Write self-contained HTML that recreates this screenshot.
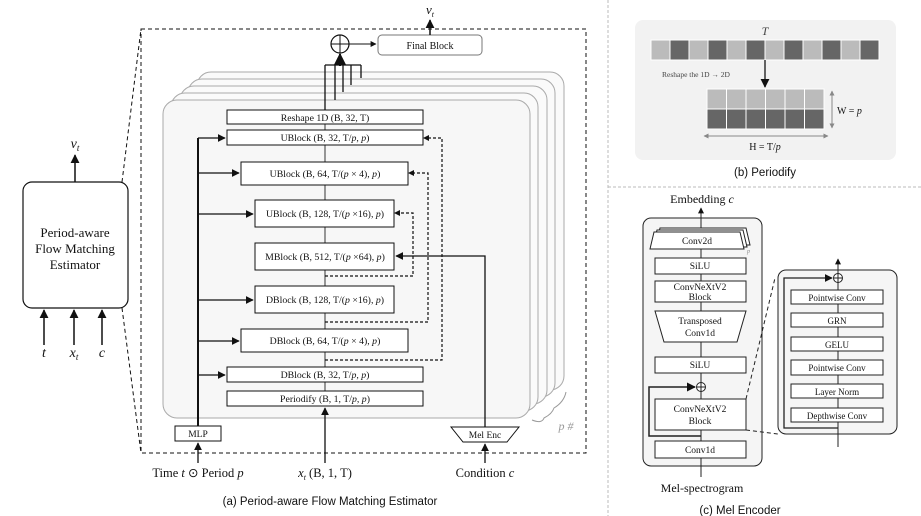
<!DOCTYPE html>
<html><head><meta charset="utf-8"><style>
body{margin:0;background:#fff}
svg{display:block}
text{font-family:"Liberation Serif",serif;fill:#111}
</style></head><body>
<svg width="921" height="516" viewBox="0 0 921 516" xmlns="http://www.w3.org/2000/svg">
<defs>
<marker id="a" viewBox="0 0 10 10" refX="9" refY="5" markerWidth="6" markerHeight="6" orient="auto"><path d="M0,0L10,5L0,10z" fill="#111"/></marker>
<marker id="g" viewBox="0 0 10 10" refX="9" refY="5" markerWidth="5" markerHeight="5" orient="auto"><path d="M0,0L10,5L0,10z" fill="#888"/></marker>
</defs>

<!-- Left box -->
<rect x="23" y="182" width="105" height="126" rx="9" fill="#fff" stroke="#111" stroke-width="1.2"/>
<text x="75" y="237" font-size="13" text-anchor="middle">Period-aware</text>
<text x="75" y="253" font-size="13" text-anchor="middle">Flow Matching</text>
<text x="75" y="269" font-size="13" text-anchor="middle">Estimator</text>
<line x1="75" y1="182" x2="75" y2="155" stroke="#111" stroke-width="1.5" marker-end="url(#a)"/>
<text x="75" y="148" font-size="14" text-anchor="middle" font-style="italic">v<tspan font-size="9" dy="3">t</tspan></text>
<line x1="44" y1="345" x2="44" y2="310" stroke="#111" stroke-width="1.5" marker-end="url(#a)"/>
<line x1="74" y1="345" x2="74" y2="310" stroke="#111" stroke-width="1.5" marker-end="url(#a)"/>
<line x1="102" y1="345" x2="102" y2="310" stroke="#111" stroke-width="1.5" marker-end="url(#a)"/>
<text x="44" y="357" font-size="14" text-anchor="middle" font-style="italic">t</text>
<text x="74" y="357" font-size="14" text-anchor="middle" font-style="italic">x<tspan font-size="9" dy="3">t</tspan></text>
<text x="102" y="357" font-size="14" text-anchor="middle" font-style="italic">c</text>
<line x1="122" y1="182" x2="141" y2="29" stroke="#111" stroke-dasharray="4,3"/>
<line x1="122" y1="308" x2="141" y2="453" stroke="#111" stroke-dasharray="4,3"/>

<!-- Dashed main box -->
<rect x="141" y="29" width="445" height="424" fill="none" stroke="#111" stroke-width="1" stroke-dasharray="4,3"/>

<!-- stacked panels -->
<g stroke="#aaa" stroke-width="1">
<rect x="197" y="72" width="367" height="318" rx="14" fill="#fafafa"/>
<rect x="188" y="79" width="367" height="318" rx="14" fill="#fafafa"/>
<rect x="180" y="86" width="367" height="318" rx="14" fill="#fafafa"/>
<rect x="171" y="93" width="367" height="318" rx="14" fill="#fafafa"/>
<rect x="163" y="100" width="367" height="318" rx="14" fill="#f7f7f7"/>
</g>
<path d="M532,420 q10,4 12,-2 q8,-4 10,-10 q10,-6 12,-16" fill="none" stroke="#999"/>
<text x="566" y="430" font-size="12" font-style="italic" text-anchor="middle" style="fill:#999">p #</text>

<!-- top combination -->
<circle cx="340" cy="44" r="9" fill="#fff" stroke="#111" stroke-width="1.2"/>
<line x1="331" y1="44" x2="349" y2="44" stroke="#111"/><line x1="340" y1="35" x2="340" y2="53" stroke="#111"/>
<line x1="340" y1="66" x2="340" y2="54" stroke="#111" stroke-width="2" marker-end="url(#a)"/>
<g stroke="#111" stroke-width="1.3" fill="none">
<line x1="325" y1="65" x2="361" y2="65"/>
<line x1="325" y1="65" x2="325" y2="110"/>
<line x1="335" y1="65" x2="335" y2="100"/>
<line x1="343" y1="65" x2="343" y2="92"/>
<line x1="351" y1="65" x2="351" y2="85"/>
<line x1="361" y1="65" x2="361" y2="78"/>
</g>
<line x1="349" y1="44" x2="376" y2="44" stroke="#111" marker-end="url(#a)"/>
<rect x="378" y="35" width="104" height="20" rx="4" fill="#fff" stroke="#777"/>
<text x="430" y="49" font-size="10" text-anchor="middle">Final Block</text>
<line x1="430" y1="35" x2="430" y2="20" stroke="#111" stroke-width="1.5" marker-end="url(#a)"/>
<text x="430" y="14" font-size="13" text-anchor="middle" font-style="italic">v<tspan font-size="8" dy="3">t</tspan></text>

<!-- central line -->
<line x1="325" y1="110" x2="325" y2="406" stroke="#555" stroke-width="1.2"/>

<!-- blocks -->
<g stroke="#111" stroke-width="1" fill="#fff">
<rect x="227" y="110" width="196" height="14"/>
<rect x="227" y="130" width="196" height="15"/>
<rect x="241" y="162" width="167" height="23"/>
<rect x="255" y="200" width="139" height="27"/>
<rect x="255" y="243" width="139" height="27"/>
<rect x="255" y="286" width="139" height="27"/>
<rect x="241" y="329" width="167" height="23"/>
<rect x="227" y="367" width="196" height="15"/>
<rect x="227" y="391" width="196" height="15"/>
</g>
<g font-size="9.8" text-anchor="middle">
<text x="325" y="121">Reshape 1D (B, 32, T)</text>
<text x="325" y="141">UBlock (B, 32, T/<tspan font-style="italic">p</tspan>, <tspan font-style="italic">p</tspan>)</text>
<text x="325" y="177">UBlock (B, 64, T/(<tspan font-style="italic">p</tspan> × 4), <tspan font-style="italic">p</tspan>)</text>
<text x="325" y="217">UBlock (B, 128, T/(<tspan font-style="italic">p</tspan> ×16), <tspan font-style="italic">p</tspan>)</text>
<text x="325" y="260">MBlock (B, 512, T/(<tspan font-style="italic">p</tspan> ×64), <tspan font-style="italic">p</tspan>)</text>
<text x="325" y="303">DBlock (B, 128, T/(<tspan font-style="italic">p</tspan> ×16), <tspan font-style="italic">p</tspan>)</text>
<text x="325" y="344">DBlock (B, 64, T/(<tspan font-style="italic">p</tspan> × 4), <tspan font-style="italic">p</tspan>)</text>
<text x="325" y="378">DBlock (B, 32, T/<tspan font-style="italic">p</tspan>, <tspan font-style="italic">p</tspan>)</text>
<text x="325" y="402">Periodify (B, 1, T/<tspan font-style="italic">p</tspan>, <tspan font-style="italic">p</tspan>)</text>
</g>

<!-- MLP and time arrows -->
<rect x="175" y="426" width="46" height="15" fill="#fff" stroke="#111"/>
<text x="198" y="437" font-size="9.5" text-anchor="middle">MLP</text>
<line x1="198" y1="426" x2="198" y2="138" stroke="#111" stroke-width="2"/>
<g stroke="#111" stroke-width="1.3" marker-end="url(#a)">
<line x1="198" y1="138" x2="225" y2="138"/>
<line x1="198" y1="173" x2="239" y2="173"/>
<line x1="198" y1="214" x2="253" y2="214"/>
<line x1="198" y1="300" x2="253" y2="300"/>
<line x1="198" y1="341" x2="239" y2="341"/>
<line x1="198" y1="375" x2="225" y2="375"/>
</g>
<line x1="198" y1="463" x2="198" y2="443" stroke="#111" stroke-width="1.3" marker-end="url(#a)"/>
<line x1="325" y1="463" x2="325" y2="408" stroke="#111" stroke-width="1.3" marker-end="url(#a)"/>

<!-- Mel enc -->
<path d="M451,427 L519,427 L507,442 L463,442 Z" fill="#fff" stroke="#111"/>
<text x="485" y="438" font-size="9.5" text-anchor="middle">Mel Enc</text>
<polyline points="485,427 485,256 396,256" fill="none" stroke="#111" stroke-width="1.3" marker-end="url(#a)"/>
<line x1="485" y1="463" x2="485" y2="444" stroke="#111" stroke-width="1.3" marker-end="url(#a)"/>

<!-- skip dashed -->
<g fill="none" stroke="#111" stroke-width="1.2" stroke-dasharray="3,2">
<polyline points="325,360 442,360 442,138 425,138"/>
<polyline points="325,322 428,322 428,173 410,173"/>
<polyline points="325,276 413,276 413,213 396,213"/>
</g>
<g fill="#111"><path d="M423,138 l6,-3 v6z"/><path d="M408,173 l6,-3 v6z"/><path d="M394,213 l6,-3 v6z"/></g>

<text x="198" y="477" font-size="12.5" text-anchor="middle">Time <tspan font-style="italic">t</tspan> ⊙ Period <tspan font-style="italic">p</tspan></text>
<text x="325" y="477" font-size="12.5" text-anchor="middle"><tspan font-style="italic">x<tspan font-size="8" dy="3">t</tspan></tspan><tspan dy="-3"> (B, 1, T)</tspan></text>
<text x="485" y="477" font-size="12.5" text-anchor="middle">Condition <tspan font-style="italic">c</tspan></text>
<text x="330" y="505" font-size="11.5" text-anchor="middle" style="font-family:'Liberation Sans',sans-serif">(a) Period-aware Flow Matching Estimator</text>

<!-- separators -->
<line x1="608" y1="0" x2="608" y2="516" stroke="#bbb" stroke-dasharray="3,2"/>
<line x1="608" y1="187" x2="921" y2="187" stroke="#bbb" stroke-dasharray="3,2"/>

<!-- (b) Periodify -->
<rect x="635" y="20" width="261" height="140" rx="8" fill="#f2f2f2"/>
<text x="765" y="35" font-size="12" font-style="italic" text-anchor="middle" style="fill:#444">T</text>
<g stroke="#fff" stroke-width="1">
<rect x="651" y="40" width="19" height="20" fill="#bbb"/><rect x="670" y="40" width="19" height="20" fill="#666"/>
<rect x="689" y="40" width="19" height="20" fill="#bbb"/><rect x="708" y="40" width="19" height="20" fill="#666"/>
<rect x="727" y="40" width="19" height="20" fill="#bbb"/><rect x="746" y="40" width="19" height="20" fill="#666"/>
<rect x="765" y="40" width="19" height="20" fill="#bbb"/><rect x="784" y="40" width="19" height="20" fill="#666"/>
<rect x="803" y="40" width="19" height="20" fill="#bbb"/><rect x="822" y="40" width="19" height="20" fill="#666"/>
<rect x="841" y="40" width="19" height="20" fill="#bbb"/><rect x="860" y="40" width="19" height="20" fill="#666"/>
<rect x="707" y="89" width="19.5" height="20" fill="#bbb"/><rect x="726.5" y="89" width="19.5" height="20" fill="#bbb"/>
<rect x="746" y="89" width="19.5" height="20" fill="#bbb"/><rect x="765.5" y="89" width="19.5" height="20" fill="#bbb"/>
<rect x="785" y="89" width="19.5" height="20" fill="#bbb"/><rect x="804.5" y="89" width="19.5" height="20" fill="#bbb"/>
<rect x="707" y="109" width="19.5" height="20" fill="#666"/><rect x="726.5" y="109" width="19.5" height="20" fill="#666"/>
<rect x="746" y="109" width="19.5" height="20" fill="#666"/><rect x="765.5" y="109" width="19.5" height="20" fill="#666"/>
<rect x="785" y="109" width="19.5" height="20" fill="#666"/><rect x="804.5" y="109" width="19.5" height="20" fill="#666"/>
</g>
<line x1="765" y1="60" x2="765" y2="87" stroke="#333" stroke-width="1.5" marker-end="url(#a)"/>
<text x="662" y="77" font-size="7.5" style="fill:#444">Reshape the 1D → 2D</text>
<line x1="832" y1="96" x2="832" y2="91" stroke="#888" marker-end="url(#g)"/>
<line x1="832" y1="92" x2="832" y2="128" stroke="#888" marker-end="url(#g)"/>
<line x1="710" y1="136" x2="704" y2="136" stroke="#888" marker-end="url(#g)"/>
<line x1="705" y1="136" x2="828" y2="136" stroke="#888" marker-end="url(#g)"/>
<text x="837" y="114" font-size="10">W = <tspan font-style="italic">p</tspan></text>
<text x="765" y="150" font-size="10" text-anchor="middle">H =  T/<tspan font-style="italic">p</tspan></text>
<text x="765" y="176" font-size="11.5" text-anchor="middle" style="font-family:'Liberation Sans',sans-serif">(b) Periodify</text>

<!-- (c) Mel Encoder -->
<rect x="643" y="218" width="119" height="248" rx="8" fill="#f5f5f5" stroke="#222"/>
<text x="702" y="203" font-size="12" text-anchor="middle">Embedding <tspan font-style="italic">c</tspan></text>
<line x1="701" y1="477" x2="701" y2="208" stroke="#222" marker-end="url(#a)"/>
<g stroke="#222" fill="#fff">
<path d="M660,228 L746,228 L750,245 L656,245 Z"/>
<path d="M657,230 L743,230 L747,247 L653,247 Z"/>
<path d="M654,232 L740,232 L744,249 L650,249 Z"/>
<rect x="655" y="258" width="91" height="16"/>
<rect x="655" y="281" width="91" height="21"/>
<path d="M655,311 L746,311 L737,342 L664,342 Z"/>
<rect x="655" y="357" width="91" height="16"/>
<rect x="655" y="399" width="91" height="31"/>
<rect x="655" y="441" width="91" height="17"/>
</g>
<text x="747" y="253" font-size="6" font-style="italic" style="fill:#888">p</text>
<g font-size="9.5" text-anchor="middle">
<text x="697" y="244">Conv2d</text>
<text x="700" y="269">SiLU</text>
<text x="700" y="290">ConvNeXtV2</text><text x="700" y="300">Block</text>
<text x="700" y="324">Transposed</text><text x="700" y="336">Conv1d</text>
<text x="700" y="368">SiLU</text>
<text x="700" y="412">ConvNeXtV2</text><text x="700" y="424">Block</text>
<text x="700" y="453">Conv1d</text>
</g>
<circle cx="701" cy="387" r="4.5" fill="#fff" stroke="#222"/>
<line x1="696.5" y1="387" x2="705.5" y2="387" stroke="#222"/><line x1="701" y1="382.5" x2="701" y2="391.5" stroke="#222"/>
<polyline points="701,436 649,436 649,387 695,387" fill="none" stroke="#222" stroke-width="1.5" marker-end="url(#a)"/>
<text x="702" y="492" font-size="12" text-anchor="middle">Mel-spectrogram</text>
<text x="740" y="514" font-size="11.5" text-anchor="middle" style="font-family:'Liberation Sans',sans-serif">(c) Mel Encoder</text>

<rect x="778" y="270" width="119" height="164" rx="8" fill="#f5f5f5" stroke="#222"/>
<line x1="838" y1="447" x2="838" y2="259" stroke="#222" marker-end="url(#a)"/>
<g stroke="#222" fill="#fff">
<rect x="791" y="290" width="92" height="14"/>
<rect x="791" y="313" width="92" height="14"/>
<rect x="791" y="337" width="92" height="14"/>
<rect x="791" y="360" width="92" height="15"/>
<rect x="791" y="384" width="92" height="14"/>
<rect x="791" y="408" width="92" height="14"/>
</g>
<g font-size="9" text-anchor="middle">
<text x="837" y="301">Pointwise Conv</text>
<text x="837" y="324">GRN</text>
<text x="837" y="348">GELU</text>
<text x="837" y="371">Pointwise Conv</text>
<text x="837" y="395">Layer Norm</text>
<text x="837" y="419">Depthwise Conv</text>
</g>
<circle cx="838" cy="278" r="4.5" fill="#fff" stroke="#222"/>
<line x1="833.5" y1="278" x2="842.5" y2="278" stroke="#222"/><line x1="838" y1="273.5" x2="838" y2="282.5" stroke="#222"/>
<polyline points="838,428 784,428 784,278 832,278" fill="none" stroke="#222" stroke-width="1.3" marker-end="url(#a)"/>
<line x1="746" y1="399" x2="775" y2="278" stroke="#222" stroke-dasharray="4,3"/>
<line x1="746" y1="430" x2="778" y2="434" stroke="#222" stroke-dasharray="4,3"/>
</svg>
</body></html>
